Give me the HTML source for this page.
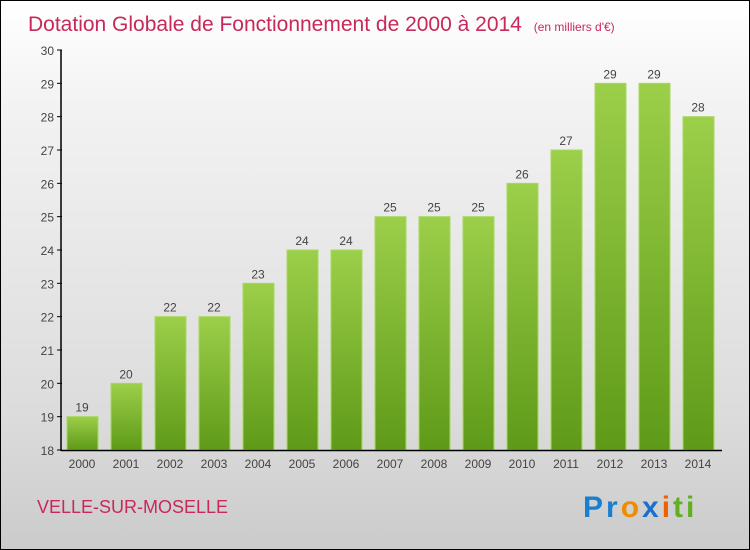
<!DOCTYPE html>
<html><head><meta charset="utf-8"><style>
body{margin:0}
#c{width:748px;height:548px;border:1px solid #000;background:linear-gradient(#fff,#f2f2f2 20%,#dcdcdc 75%,#cbcbcb);position:relative;font-family:"Liberation Sans",sans-serif;overflow:hidden}
</style></head><body>
<div id="c">
<svg id="s" width="748" height="548">
<defs><linearGradient id="g" x1="0" y1="0" x2="0" y2="1"><stop offset="0" stop-color="#9ccf4a"/><stop offset="1" stop-color="#5e9a18"/></linearGradient></defs>
<text x="27" y="30" font-size="21" fill="#c8285a">Dotation Globale de Fonctionnement de 2000 à 2014 <tspan font-size="12" dx="6">(en milliers d'€)</tspan></text>
<text x="36" y="512" font-size="18" fill="#c8285a">VELLE-SUR-MOSELLE</text>
<text x="582" y="516" font-size="30" font-weight="bold" letter-spacing="3"><tspan fill="#1a7fd0">Pr</tspan><tspan fill="#f08c00">o</tspan><tspan fill="#1a6fd0">x</tspan><tspan fill="#f06000">i</tspan><tspan fill="#60b020">ti</tspan></text>
</svg></div>
<script>
const categories=["2000","2001","2002","2003","2004","2005","2006","2007","2008","2009","2010","2011","2012","2013","2014"];
const values=[19,20,22,22,23,24,24,25,25,25,26,27,29,29,28];
const yTicks=[18,19,20,21,22,23,24,25,26,27,28,29,30];
const s=document.getElementById('s');const NS='http://www.w3.org/2000/svg';
const y=v=>449-(v-18)*(400/12);
const x=i=>81+i*44;
function el(t,a,p){const e=document.createElementNS(NS,t);for(const k in a)e.setAttribute(k,a[k]);(p||s).appendChild(e);return e;}
yTicks.forEach(t=>{
const tk=el('line',{x1:56,x2:61,y1:y(t),y2:y(t),stroke:'#000'});


const l=el('text',{x:53,y:y(t)+5,'font-size':12,'text-anchor':'end',fill:'#444'});l.textContent=t;


});
categories.forEach((c,i)=>{
const v=values[i];
const b=el('rect',{x:x(i)-15,y:y(v),width:31,height:y(18)-y(v),fill:'url(#g)',stroke:'#a8d860','stroke-width':1});


const vl=el('text',{x:x(i),y:y(v)-5,'font-size':12,'text-anchor':'middle',fill:'#444'});vl.textContent=v;


const xl=el('text',{x:x(i),y:467,'font-size':12,'text-anchor':'middle',fill:'#444'});xl.textContent=c;


});
const ya=el('line',{x1:60,x2:60,y1:y(30),y2:y(18)+1,stroke:'#000','stroke-width':1.5});


const xa=el('line',{x1:60,x2:721,y1:y(18)+0.5,y2:y(18)+0.5,stroke:'#000','stroke-width':1.5});


</script>
</body></html>
